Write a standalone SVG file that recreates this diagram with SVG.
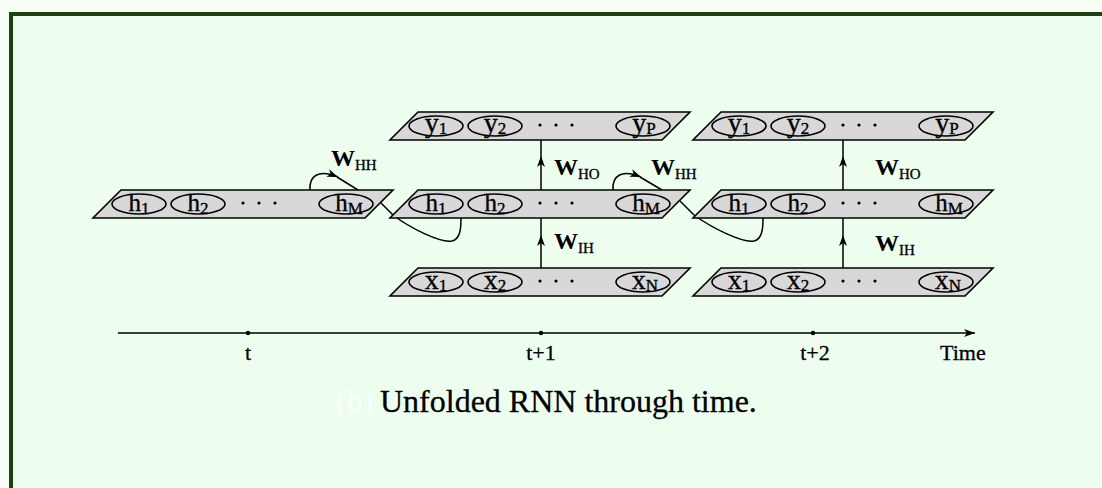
<svg xmlns="http://www.w3.org/2000/svg" width="1102" height="488" viewBox="0 0 1102 488">
<style>
.plane{fill:#d8d8d8;stroke:#000;stroke-width:1.6}
.unit{fill:#d8d8d8;stroke:#000;stroke-width:1.6}
.lbl{font-family:"Liberation Serif","Times New Roman",serif;font-size:25px;fill:#000;stroke:#000;stroke-width:0.35;text-anchor:middle}
.lblxy{font-family:"Liberation Serif","Times New Roman",serif;font-size:28px;fill:#000;stroke:#000;stroke-width:0.35;text-anchor:middle}
.sub{font-size:17px}
.dot{fill:#000}
.w{font-family:"Liberation Serif","Times New Roman",serif;font-size:24px;font-weight:bold;fill:#000}
.wsub{font-size:15px;font-weight:normal;stroke:#000;stroke-width:0.3}
.edge{fill:none;stroke:#000;stroke-width:1.5}
.axis{font-family:"Liberation Serif","Times New Roman",serif;font-size:22px;fill:#000;stroke:#000;stroke-width:0.3}
.cap{font-family:"Liberation Serif","Times New Roman",serif;font-size:32px;fill:#000;stroke:#000;stroke-width:0.3}
.ghost{font-family:"Liberation Serif","Times New Roman",serif;font-size:32px;fill:#fafffa;stroke:none}
</style>
<defs>
<marker id="arr" markerUnits="userSpaceOnUse" markerWidth="12" markerHeight="10" refX="11" refY="4" orient="auto">
<path d="M0,0 L11,4 L0,8 L3,4 z" fill="#000"/>
</marker>
</defs>
<rect x="0" y="0" width="1102" height="488" fill="#f7fff7"/>
<rect x="11" y="14" width="1200" height="600" fill="#eefeee" stroke="#1c4213" stroke-width="4"/>

<g id="connectors">
<path class="edge" d="M381,203 L393,215 C410,228 440,243 452,241 C461,239 461,226 461,218"/>
<path class="edge" d="M680,201 L694,215 C712,228 742,243 754,241 C763,239 763,226 763,218"/>
<path class="edge" d="M310,190 C309,176 318,169 338,177" marker-end="url(#arr)"/>
<path class="edge" d="M337,177 L358,190"/>
<path class="edge" d="M613,190 C612,176 621,169 641,177" marker-end="url(#arr)"/>
<path class="edge" d="M640,177 L662,190"/>
<path class="edge" d="M541,268 L541,235 L541,218" marker-mid="url(#arr)"/>
<path class="edge" d="M541,190 L541,156 L541,140" marker-mid="url(#arr)"/>
<path class="edge" d="M843,268 L843,235 L843,218" marker-mid="url(#arr)"/>
<path class="edge" d="M843,190 L843,156 L843,140" marker-mid="url(#arr)"/>
</g>

<g id="h-t">
<polygon class="plane" points="121,190 393,190 365,218 93,218"/>
<g id="h-t-1"><ellipse class="unit" cx="139" cy="204" rx="27" ry="10"/><text class="lbl" x="139" y="211">h<tspan class="sub" dy="3">1</tspan></text></g>
<g id="h-t-2"><ellipse class="unit" cx="198" cy="204" rx="27" ry="10"/><text class="lbl" x="198" y="211">h<tspan class="sub" dy="3">2</tspan></text></g>
<circle class="dot" cx="243" cy="203" r="1.6"/><circle class="dot" cx="259" cy="203" r="1.6"/><circle class="dot" cx="275" cy="203" r="1.6"/>
<g id="h-t-M"><ellipse class="unit" cx="346" cy="204" rx="27" ry="10"/><text class="lbl" x="349" y="211">h<tspan class="sub" dy="3">M</tspan></text></g>
</g>

<g id="y-t1">
<polygon class="plane" points="418,112 690,112 662,140 390,140"/>
<g id="y-t1-1"><ellipse class="unit" cx="436" cy="126" rx="27" ry="10"/><text class="lblxy" x="436" y="132">y<tspan class="sub" dy="2">1</tspan></text></g>
<g id="y-t1-2"><ellipse class="unit" cx="495" cy="126" rx="27" ry="10"/><text class="lblxy" x="495" y="132">y<tspan class="sub" dy="2">2</tspan></text></g>
<circle class="dot" cx="540" cy="125" r="1.6"/><circle class="dot" cx="556" cy="125" r="1.6"/><circle class="dot" cx="572" cy="125" r="1.6"/>
<g id="y-t1-P"><ellipse class="unit" cx="643" cy="126" rx="27" ry="10"/><text class="lblxy" x="644" y="132">y<tspan class="sub" dy="2">P</tspan></text></g>
</g>

<g id="h-t1">
<polygon class="plane" points="418,190 690,190 662,218 390,218"/>
<g id="h-t1-1"><ellipse class="unit" cx="436" cy="204" rx="27" ry="10"/><text class="lbl" x="436" y="211">h<tspan class="sub" dy="3">1</tspan></text></g>
<g id="h-t1-2"><ellipse class="unit" cx="495" cy="204" rx="27" ry="10"/><text class="lbl" x="495" y="211">h<tspan class="sub" dy="3">2</tspan></text></g>
<circle class="dot" cx="540" cy="203" r="1.6"/><circle class="dot" cx="556" cy="203" r="1.6"/><circle class="dot" cx="572" cy="203" r="1.6"/>
<g id="h-t1-M"><ellipse class="unit" cx="643" cy="204" rx="27" ry="10"/><text class="lbl" x="646" y="211">h<tspan class="sub" dy="3">M</tspan></text></g>
</g>

<g id="x-t1">
<polygon class="plane" points="418,268 690,268 662,296 390,296"/>
<g id="x-t1-1"><ellipse class="unit" cx="436" cy="282" rx="27" ry="10"/><text class="lblxy" x="436" y="289">x<tspan class="sub" dy="2">1</tspan></text></g>
<g id="x-t1-2"><ellipse class="unit" cx="495" cy="282" rx="27" ry="10"/><text class="lblxy" x="495" y="289">x<tspan class="sub" dy="2">2</tspan></text></g>
<circle class="dot" cx="540" cy="281" r="1.6"/><circle class="dot" cx="556" cy="281" r="1.6"/><circle class="dot" cx="572" cy="281" r="1.6"/>
<g id="x-t1-N"><ellipse class="unit" cx="643" cy="282" rx="27" ry="10"/><text class="lblxy" x="645" y="289">x<tspan class="sub" dy="2">N</tspan></text></g>
</g>

<g id="y-t2">
<polygon class="plane" points="721,112 993,112 965,140 693,140"/>
<g id="y-t2-1"><ellipse class="unit" cx="739" cy="126" rx="27" ry="10"/><text class="lblxy" x="739" y="132">y<tspan class="sub" dy="2">1</tspan></text></g>
<g id="y-t2-2"><ellipse class="unit" cx="798" cy="126" rx="27" ry="10"/><text class="lblxy" x="798" y="132">y<tspan class="sub" dy="2">2</tspan></text></g>
<circle class="dot" cx="843" cy="125" r="1.6"/><circle class="dot" cx="859" cy="125" r="1.6"/><circle class="dot" cx="875" cy="125" r="1.6"/>
<g id="y-t2-P"><ellipse class="unit" cx="946" cy="126" rx="27" ry="10"/><text class="lblxy" x="947" y="132">y<tspan class="sub" dy="2">P</tspan></text></g>
</g>

<g id="h-t2">
<polygon class="plane" points="721,190 993,190 965,218 693,218"/>
<g id="h-t2-1"><ellipse class="unit" cx="739" cy="204" rx="27" ry="10"/><text class="lbl" x="739" y="211">h<tspan class="sub" dy="3">1</tspan></text></g>
<g id="h-t2-2"><ellipse class="unit" cx="798" cy="204" rx="27" ry="10"/><text class="lbl" x="798" y="211">h<tspan class="sub" dy="3">2</tspan></text></g>
<circle class="dot" cx="843" cy="203" r="1.6"/><circle class="dot" cx="859" cy="203" r="1.6"/><circle class="dot" cx="875" cy="203" r="1.6"/>
<g id="h-t2-M"><ellipse class="unit" cx="946" cy="204" rx="27" ry="10"/><text class="lbl" x="949" y="211">h<tspan class="sub" dy="3">M</tspan></text></g>
</g>

<g id="x-t2">
<polygon class="plane" points="721,268 993,268 965,296 693,296"/>
<g id="x-t2-1"><ellipse class="unit" cx="739" cy="282" rx="27" ry="10"/><text class="lblxy" x="739" y="289">x<tspan class="sub" dy="2">1</tspan></text></g>
<g id="x-t2-2"><ellipse class="unit" cx="798" cy="282" rx="27" ry="10"/><text class="lblxy" x="798" y="289">x<tspan class="sub" dy="2">2</tspan></text></g>
<circle class="dot" cx="843" cy="281" r="1.6"/><circle class="dot" cx="859" cy="281" r="1.6"/><circle class="dot" cx="875" cy="281" r="1.6"/>
<g id="x-t2-N"><ellipse class="unit" cx="946" cy="282" rx="27" ry="10"/><text class="lblxy" x="948" y="289">x<tspan class="sub" dy="2">N</tspan></text></g>
</g>

<g id="weights">
<text class="w" x="331" y="166">W<tspan class="wsub" dy="4">HH</tspan></text>
<text class="w" x="651" y="175">W<tspan class="wsub" dy="4">HH</tspan></text>
<text class="w" x="554" y="175">W<tspan class="wsub" dy="4">HO</tspan></text>
<text class="w" x="554" y="249">W<tspan class="wsub" dy="4">IH</tspan></text>
<text class="w" x="875" y="175">W<tspan class="wsub" dy="4">HO</tspan></text>
<text class="w" x="875" y="251">W<tspan class="wsub" dy="4">IH</tspan></text>
</g>

<g id="timeline">
<path class="edge" d="M118,333 L975,333" marker-end="url(#arr)"/>
<circle class="dot" cx="248" cy="333" r="2.2"/>
<circle class="dot" cx="541" cy="333" r="2.2"/>
<circle class="dot" cx="813" cy="333" r="2.2"/>
<text class="axis" x="248" y="360" text-anchor="middle">t</text>
<text class="axis" x="541" y="360" text-anchor="middle">t+1</text>
<text class="axis" x="815" y="360" text-anchor="middle">t+2</text>
<text class="axis" x="940" y="360">Time</text>
</g>

<text class="ghost" x="336" y="412">(b)</text>
<text class="cap" x="380" y="412">Unfolded RNN through time.</text>
</svg>
